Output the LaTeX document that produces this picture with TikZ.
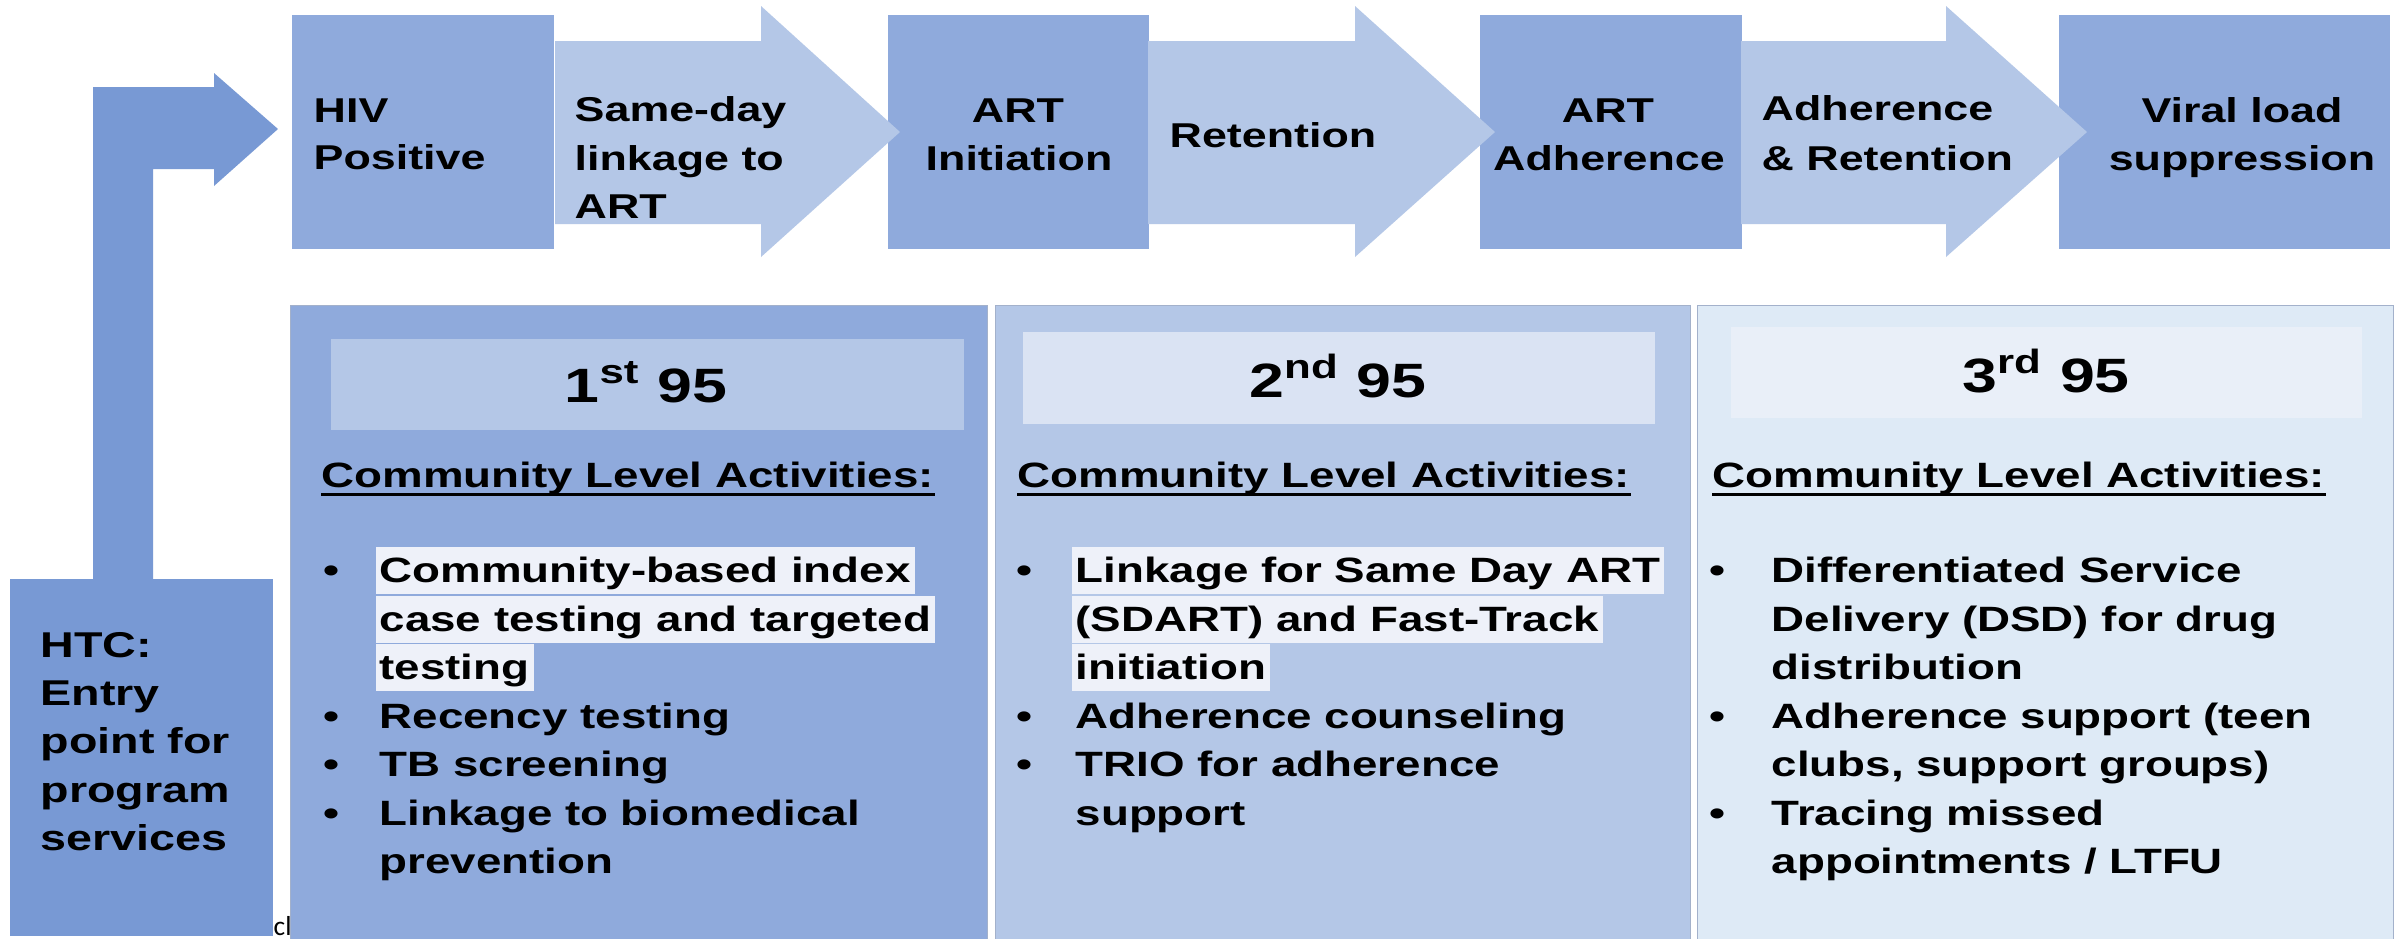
\documentclass[tikz,border=0pt]{standalone}
\usepackage{fontspec}
\setmainfont{Liberation Sans}[FakeStretch=1.3]
\newfontfamily\fragfont{Carlito}
\usetikzlibrary{calc}
\definecolor{boxc}{HTML}{8FAADC}
\definecolor{arrc}{HTML}{B4C7E7}
\definecolor{htcc}{HTML}{7899D4}
\definecolor{pone}{HTML}{8FAADC}
\definecolor{ponehd}{HTML}{B4C7E7}
\definecolor{ptwo}{HTML}{B4C7E7}
\definecolor{ptwohd}{HTML}{DAE3F3}
\definecolor{pthree}{HTML}{DEEAF6}
\definecolor{pthreehd}{HTML}{E9EFF8}
\definecolor{hlc}{HTML}{EEF1F9}
\definecolor{edgec}{HTML}{A3B1CB}
\begin{document}
\begin{tikzpicture}[x=0.01cm,y=-0.01cm,
  topbox/.style={fill=boxc, draw=none, anchor=north west, inner sep=0},
  flowarrow/.style={fill=arrc},
  lbl/.style={font=\fontsize{9.8pt}{12pt}\selectfont\bfseries, inner sep=0},
  txt/.style={font=\fontsize{10pt}{12pt}\selectfont\bfseries, inner sep=0, anchor=base west},
  htctxt/.style={font=\fontsize{10.2pt}{12pt}\selectfont\bfseries, inner sep=0, anchor=base west},
  hd/.style={font=\fontsize{13.7pt}{16pt}\selectfont\bfseries, inner sep=0, anchor=base},
  hlt/.style={txt, fill=hlc, inner xsep=0.04cm, text height=0.35cm, text depth=0.12cm},
  panel/.style={anchor=north west, inner sep=0, draw=edgec, line width=0.3pt},
  hdbox/.style={anchor=north west, inner sep=0, draw=none},
  ul/.style={line width=0.85pt}
]
\useasboundingbox (0,0) rectangle (2405,938);
\fill[white] (0,0) rectangle (2405,938);

% ---------- top row boxes ----------
\node[topbox, minimum width=2.62cm, minimum height=2.34cm] (hiv) at (291,14) {};
\node[topbox, minimum width=2.61cm, minimum height=2.34cm] (init) at (887,14) {};
\node[topbox, minimum width=2.62cm, minimum height=2.34cm] (adh) at (1479,14) {};
\node[topbox, minimum width=3.31cm, minimum height=2.34cm] (vl) at (2058,14) {};

% ---------- block arrows ----------
\fill[flowarrow] (555,41) -- (761,41) -- (761,6) -- (900,132) -- (761,257) -- (761,224) -- (555,224) -- cycle;
\fill[flowarrow] (1148,41) -- (1355,41) -- (1355,6) -- (1495,132) -- (1355,257) -- (1355,224) -- (1148,224) -- cycle;
\fill[flowarrow] (1741,41) -- (1946,41) -- (1946,6) -- (2087,132) -- (1946,257) -- (1946,224) -- (1741,224) -- cycle;

% ---------- top labels ----------
\node[lbl, anchor=base west] (hivA) at (313,122) {HIV};
\node[lbl, anchor=base west] (hivB) at (313,169) {Positive};
\node[lbl, anchor=base west] (sdA) at (574,121) {Same-day};
\node[lbl, anchor=base west] (sdB) at (574,170) {linkage to};
\node[lbl, anchor=base west] (sdC) at (574,218) {ART};
\node[lbl, anchor=base] (initA) at (1018,122) {ART};
\node[lbl, anchor=base] (initB) at (1019,170) {Initiation};
\node[lbl, anchor=base west] (ret) at (1169,147) {Retention};
\node[lbl, anchor=base] (adhA) at (1608,122) {ART};
\node[lbl, anchor=base] (adhB) at (1609,170) {Adherence};
\node[lbl, anchor=base west] (arA) at (1761,120) {Adherence};
\node[lbl, anchor=base west] (arB) at (1761,170) {\& Retention};
\node[lbl, anchor=base] (vlA) at (2242,122) {Viral load};
\node[lbl, anchor=base] (vlB) at (2242,170) {suppression};

% ---------- bent arrow and HTC ----------
\fill[htcc] (93,585) -- (93,87) -- (214,87) -- (214,73) -- (278,129) -- (214,186) -- (214,169) -- (153,169) -- (153,585) -- cycle;
\node[fill=htcc, anchor=north west, inner sep=0, minimum width=2.63cm, minimum height=3.57cm] (htc) at (9,578) {};
\node[htctxt] (htcA) at (40,657) {HTC:};
\node[htctxt] (htcB) at (40,705) {Entry};
\node[htctxt] (htcC) at (40,753) {point for};
\node[htctxt] (htcD) at (40,802) {program};
\node[htctxt] (htcE) at (40,850) {services};
\node[font=\fragfont\fontsize{7.8pt}{10pt}\selectfont, anchor=base west, inner sep=0] (frag) at (273,935) {cl};

% ---------- panels ----------
\node[panel, fill=pone, minimum width=6.97cm, minimum height=6.40cm] (p1) at (290,305) {};
\node[panel, fill=ptwo, minimum width=6.95cm, minimum height=6.40cm] (p2) at (995,305) {};
\node[panel, fill=pthree, minimum width=6.96cm, minimum height=6.40cm] (p3) at (1697,305) {};

\node[hdbox, fill=ponehd, minimum width=6.33cm, minimum height=0.91cm] (h1) at (330,338) {};
\node[hdbox, fill=ptwohd, minimum width=6.32cm, minimum height=0.92cm] (h2) at (1022,331) {};
\node[hdbox, fill=pthreehd, minimum width=6.31cm, minimum height=0.91cm] (h3) at (1730,326) {};
\node[hd] (h1t) at (646,402) {1\textsuperscript{st} 95};
\node[hd] (h2t) at (1338,397) {2\textsuperscript{nd} 95};
\node[hd] (h3t) at (2046,392) {3\textsuperscript{rd} 95};

\node[txt] (c1) at (321,487) {Community Level Activities:};
\node[txt] (c2) at (1017,487) {Community Level Activities:};
\node[txt] (c3) at (1712,487) {Community Level Activities:};
\foreach \c in {c1,c2,c3}
  \draw[ul] ($(\c.base west)+(0,7)$) -- ($(\c.base east)+(0,7)$);

% panel 1 items
\node[txt] (b11) at (323,582) {\textbullet};
\node[hlt] (t11) at (375,582) {Community-based index};
\node[hlt] (t12) at (375,631) {case testing and targeted};
\node[hlt] (t13) at (375,679) {testing};
\node[txt] (b12) at (323,728) {\textbullet};
\node[txt] (t14) at (379,728) {Recency testing};
\node[txt] (b13) at (323,776) {\textbullet};
\node[txt] (t15) at (379,776) {TB screening};
\node[txt] (b14) at (323,825) {\textbullet};
\node[txt] (t16) at (379,825) {Linkage to biomedical};
\node[txt] (t17) at (379,873) {prevention};

% panel 2 items
\node[txt] (b21) at (1016,582) {\textbullet};
\node[hlt] (t21) at (1071,582) {Linkage for Same Day ART};
\node[hlt] (t22) at (1071,631) {(SDART) and Fast-Track};
\node[hlt] (t23) at (1071,679) {initiation};
\node[txt] (b22) at (1016,728) {\textbullet};
\node[txt] (t24) at (1075,728) {Adherence counseling};
\node[txt] (b23) at (1016,776) {\textbullet};
\node[txt] (t25) at (1075,776) {TRIO for adherence};
\node[txt] (t26) at (1075,825) {support};

% panel 3 items
\node[txt] (b31) at (1709,582) {\textbullet};
\node[txt] (t31) at (1771,582) {Differentiated Service};
\node[txt] (t32) at (1771,631) {Delivery (DSD) for drug};
\node[txt] (t33) at (1771,679) {distribution};
\node[txt] (b32) at (1709,728) {\textbullet};
\node[txt] (t34) at (1771,728) {Adherence support (teen};
\node[txt] (t35) at (1771,776) {clubs, support groups)};
\node[txt] (b33) at (1709,825) {\textbullet};
\node[txt] (t36) at (1771,825) {Tracing missed};
\node[txt] (t37) at (1771,873) {appointments / LTFU};
\end{tikzpicture}
\end{document}
